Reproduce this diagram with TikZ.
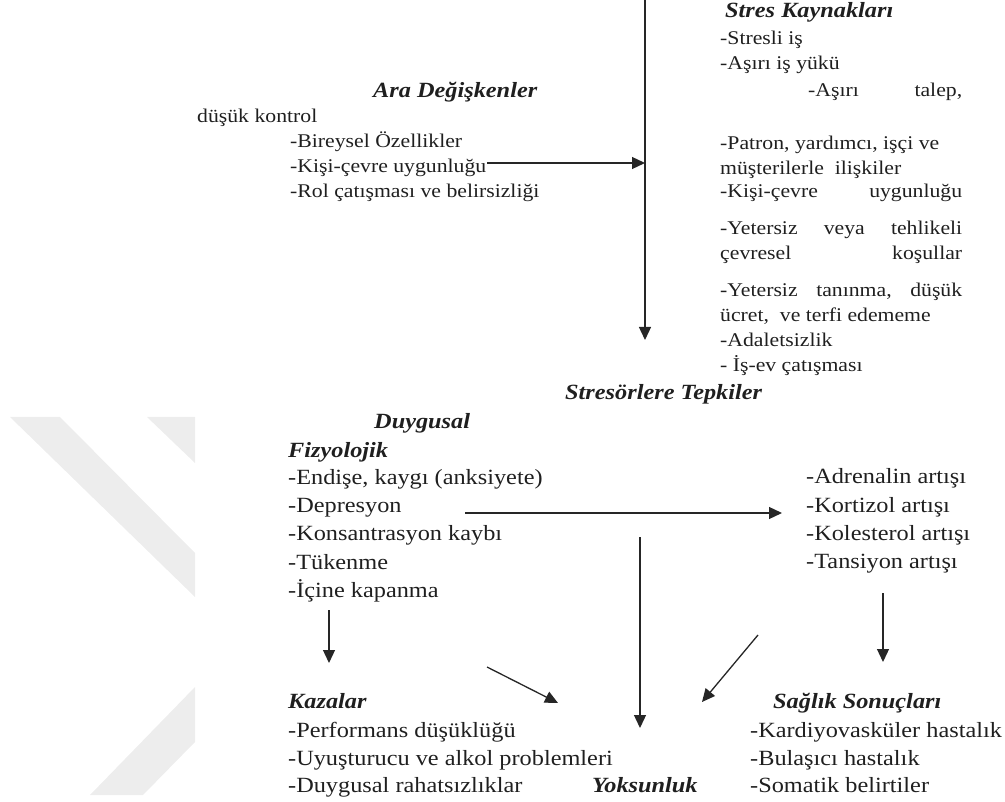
\documentclass[tikz,border=0pt]{standalone}
\usepackage{fontspec}
\setmainfont{Liberation Serif}[FakeStretch=1.12]
\usetikzlibrary{arrows.meta}
\begin{document}
\begin{tikzpicture}[x=1pt, y=-1pt,
  sm/.style={anchor=base west, inner sep=0, text=black!88, font=\fontsize{19.4}{25}\selectfont},
  lg/.style={anchor=base west, inner sep=0, text=black!88, font=\fontsize{21.7}{28}\selectfont},
  hd/.style={lg, font=\fontsize{21.7}{28}\selectfont\bfseries\itshape},
  arr/.style={line width=1.3pt, draw=black!85, -{Triangle[length=13pt, width=12pt]}}]
\useasboundingbox (0,0) rectangle (1005,802);
% watermark
\fill[black!7] (10,417) -- (60,417) -- (195,553) -- (195,597) -- cycle;
\fill[black!7] (147,417) -- (195,417) -- (195,463) -- cycle;
\fill[black!7] (90,795) -- (143,795) -- (195,742) -- (195,687) -- cycle;
% ara degiskenler
\node[hd] (ara0) at (373,98){Ara Değişkenler};
\node[sm] (ara1) at (197,123){düşük kontrol};
\node[sm] (ara2) at (290,148){-Bireysel Özellikler};
\node[sm] (ara3) at (290,173){-Kişi-çevre uygunluğu};
\node[sm] (ara4) at (290,198){-Rol çatışması ve belirsizliği};
% stres kaynaklari
\node[hd] (kay0) at (725,18){Stres Kaynakları};
\node[sm] (kay1) at (720,45){-Stresli iş};
\node[sm] (kay2) at (720,70){-Aşırı iş yükü};
\node[sm] (kay3) at (808,97){\makebox[154pt][l]{-Aşırı\hfill talep,}};
\node[sm] (kay4) at (720,150){-Patron, yardımcı, işçi ve};
\node[sm] (kay5) at (720,175){müşterilerle\ \ ilişkiler};
\node[sm] (kay6) at (720,198){\makebox[242pt][l]{-Kişi-çevre\hfill uygunluğu}};
\node[sm] (kay7) at (720,235){\makebox[242pt][l]{-Yetersiz\hfill veya\hfill tehlikeli}};
\node[sm] (kay8) at (720,260){\makebox[242pt][l]{çevresel\hfill koşullar}};
\node[sm] (kay9) at (720,297){\makebox[242pt][l]{-Yetersiz\hfill tanınma,\hfill düşük}};
\node[sm] (kay10) at (720,322){ücret,\ \ ve terfi edememe};
\node[sm] (kay11) at (720,347){-Adaletsizlik};
\node[sm] (kay12) at (720,372){- İş-ev çatışması};
\coordinate (top) at (645,0);
\coordinate (topend) at (645,340);
\draw[arr] (top) -- (topend);
\coordinate (ara3e) at (487,163);
\draw[arr] (ara3e) -- (ara3e -| top);
% tepkiler
\node[hd] (tep) at (565,400){Stresörlere Tepkiler};
\node[hd] (duy) at (374,429){Duygusal};
\node[hd] (fiz0) at (288,457){Fizyolojik};
\node[lg] (fiz1) at (288,485){-Endişe, kaygı (anksiyete)};
\node[lg] (fiz2) at (288,512){-Depresyon};
\node[lg] (fiz3) at (288,540){-Konsantrasyon kaybı};
\node[lg] (fiz4) at (288,569){-Tükenme};
\node[lg] (fiz5) at (288,597){-İçine kapanma};
\node[lg] (adr1) at (806,483){-Adrenalin artışı};
\node[lg] (adr2) at (806,512){-Kortizol artışı};
\node[lg] (adr3) at (806,540){-Kolesterol artışı};
\node[lg] (adr4) at (806,568){-Tansiyon artışı};
% sonuclar
\node[hd] (kaz0) at (288,708){Kazalar};
\node[lg] (kaz1) at (288,737){-Performans düşüklüğü};
\node[lg] (kaz2) at (288,765){-Uyuşturucu ve alkol problemleri};
\node[lg] (kaz3) at (288,792){-Duygusal rahatsızlıklar};
\node[hd] (yok) at (592,792){Yoksunluk};
\node[hd] (sag0) at (773,708){Sağlık Sonuçları};
\node[lg] (sag1) at (750,737){-Kardiyovasküler hastalık};
\node[lg] (sag2) at (750,765){-Bulaşıcı hastalık};
\node[lg] (sag3) at (750,792){-Somatik belirtiler};
% oklar
\coordinate (h0) at (465,513);
\coordinate (h1) at (782,513);
\draw[arr] (h0) -- (h1);
\coordinate (v0) at (640,537);
\coordinate (v1) at (640,728);
\draw[arr] (v0) -- (v1);
\coordinate (k0) at (329,610);
\coordinate (k1) at (329,663);
\draw[arr] (k0) -- (k1);
\coordinate (s0) at (883,593);
\coordinate (s1) at (883,662);
\draw[arr] (s0) -- (s1);
\coordinate (d0) at (487,667);
\coordinate (d1) at (558,703);
\draw[arr] (d0) -- (d1);
\coordinate (e0) at (758,635);
\coordinate (e1) at (702,702);
\draw[arr] (e0) -- (e1);
\end{tikzpicture}
\end{document}
